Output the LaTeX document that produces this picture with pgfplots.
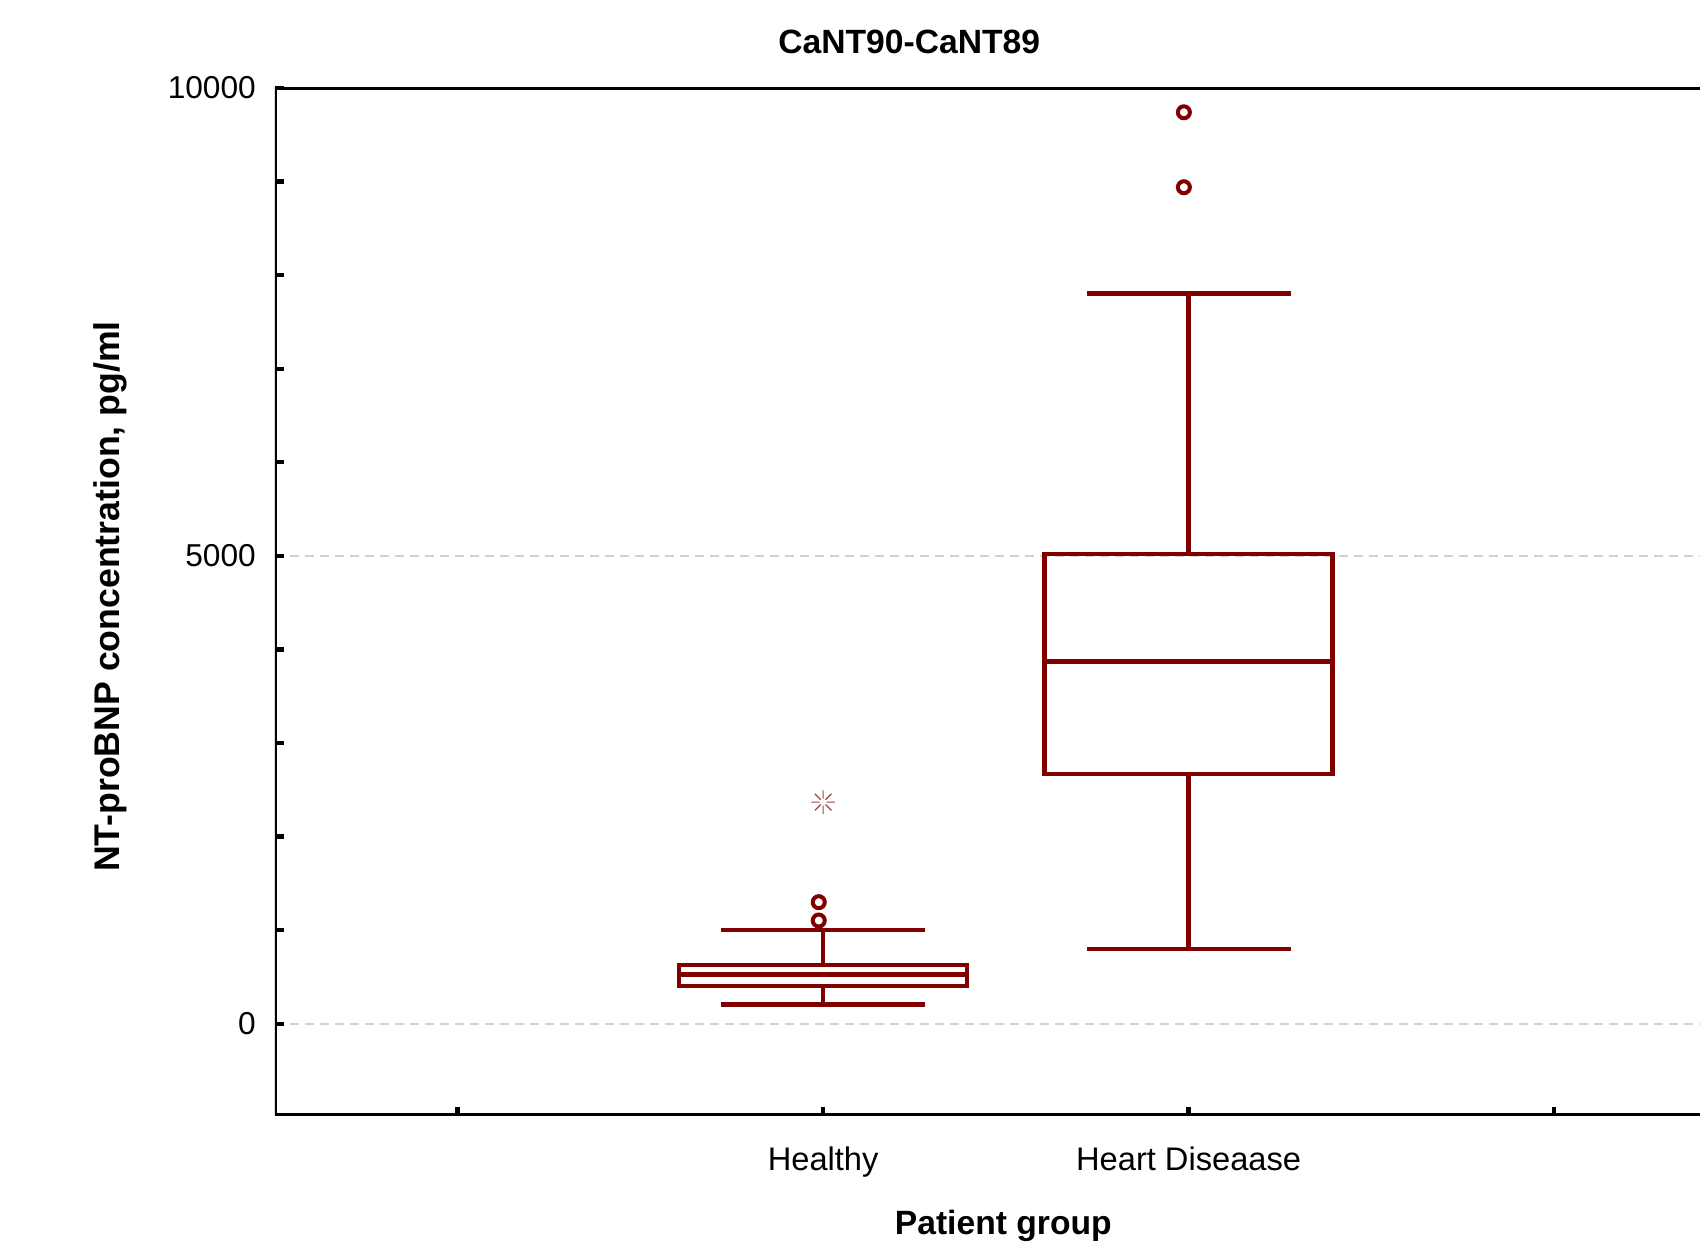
\documentclass[border=0pt]{standalone}
\usepackage{fontspec}
\setmainfont{Liberation Sans}
\usepackage{pgfplots}
\pgfplotsset{compat=1.18}
\definecolor{maroon}{RGB}{128,0,0}
\pgfdeclareplotmark{burst}{%
  \pgfpathmoveto{\pgfqpoint{0.3\pgfplotmarksize}{0pt}}\pgfpathlineto{\pgfqpoint{\pgfplotmarksize}{0pt}}%
  \pgfpathmoveto{\pgfqpoint{-0.3\pgfplotmarksize}{0pt}}\pgfpathlineto{\pgfqpoint{-\pgfplotmarksize}{0pt}}%
  \pgfpathmoveto{\pgfqpoint{0pt}{0.3\pgfplotmarksize}}\pgfpathlineto{\pgfqpoint{0pt}{\pgfplotmarksize}}%
  \pgfpathmoveto{\pgfqpoint{0pt}{-0.3\pgfplotmarksize}}\pgfpathlineto{\pgfqpoint{0pt}{-\pgfplotmarksize}}%
  \pgfpathmoveto{\pgfqpoint{0.21\pgfplotmarksize}{0.21\pgfplotmarksize}}\pgfpathlineto{\pgfqpoint{0.707\pgfplotmarksize}{0.707\pgfplotmarksize}}%
  \pgfpathmoveto{\pgfqpoint{-0.21\pgfplotmarksize}{0.21\pgfplotmarksize}}\pgfpathlineto{\pgfqpoint{-0.707\pgfplotmarksize}{0.707\pgfplotmarksize}}%
  \pgfpathmoveto{\pgfqpoint{0.21\pgfplotmarksize}{-0.21\pgfplotmarksize}}\pgfpathlineto{\pgfqpoint{0.707\pgfplotmarksize}{-0.707\pgfplotmarksize}}%
  \pgfpathmoveto{\pgfqpoint{-0.21\pgfplotmarksize}{-0.21\pgfplotmarksize}}\pgfpathlineto{\pgfqpoint{-0.707\pgfplotmarksize}{-0.707\pgfplotmarksize}}%
  \pgfusepathqstroke}
\begin{document}
\begin{tikzpicture}
\begin{axis}[
  scale only axis,
  width=427.8pt, height=308.4pt,
  xmin=-0.5, xmax=3.4, ymin=-980, ymax=10000,
  axis lines=left,
  axis line style={draw=none},
  tick align=inside,
  scaled y ticks=false,
  xtick={0,1,2,3},
  xticklabels={,Healthy,Heart Diseaase,},
  ytick={0,5000,10000},
  yticklabels={0,5000,10000},
  minor ytick={1000,2000,3000,4000,6000,7000,8000,9000},
  major tick length=2.7pt, minor tick length=2.7pt,
  tick style={black, line width=1.3pt},
  ymajorgrids,
  major grid style={gray!35, line width=0.4pt, dash pattern=on 2.7pt off 1.8pt},
  xticklabel style={anchor=base, yshift=-16.4pt, font=\fontsize{9.8}{11}\selectfont},
  yticklabel style={anchor=east, xshift=-2.2pt, font=\fontsize{9.5}{11}\selectfont},
  every axis title shift=0pt,
  title={CaNT90-CaNT89},
  title style={at={(rel axis cs:0.445,1.0337)}, anchor=base, font=\bfseries\fontsize{10.1}{12}\selectfont},
  xlabel={Patient group},
  xlabel style={at={(rel axis cs:0.511,-0.1158)}, anchor=base, inner sep=0pt, font=\bfseries\fontsize{10.1}{12}\selectfont},
  ylabel={NT-proBNP concentration, pg/ml},
  ylabel style={at={(rel axis cs:-0.1087,0.505)}, anchor=base, inner sep=0pt, font=\bfseries\fontsize{10.7}{12}\selectfont},
  every axis plot/.append style={line width=1.4pt, line join=miter},
]
% Healthy: box Q1=406, median=527, Q3=630, whiskers 206 / 1004
\addplot[maroon, mark=none] coordinates {(1,406) (1.394,406) (1.394,630) (0.606,630) (0.606,406) (1,406)};
\addplot[maroon, mark=none] coordinates {(0.606,527) (1.394,527)};
\addplot[maroon, mark=none] coordinates {(1,630) (1,1004)};
\addplot[maroon, mark=none] coordinates {(0.721,1004) (1.279,1004)};
\addplot[maroon, mark=none] coordinates {(1,406) (1,206)};
\addplot[maroon, mark=none] coordinates {(0.721,206) (1.279,206)};
% Heart Disease: box Q1=2668, median=3875, Q3=5021, whiskers 798 / 7802
\addplot[maroon, mark=none] coordinates {(2,2668) (2.394,2668) (2.394,5021) (1.606,5021) (1.606,2668) (2,2668)};
\addplot[maroon, mark=none] coordinates {(1.606,3875) (2.394,3875)};
\addplot[maroon, mark=none] coordinates {(2,5021) (2,7802)};
\addplot[maroon, mark=none] coordinates {(1.721,7802) (2.279,7802)};
\addplot[maroon, mark=none] coordinates {(2,2668) (2,798)};
\addplot[maroon, mark=none] coordinates {(1.721,798) (2.279,798)};
% outliers
\addplot[only marks, mark=o, mark size=1.8pt, maroon, mark options={line width=1.2pt}] coordinates {(0.988,1300) (0.988,1104) (1.987,9740) (1.987,8939)};
% extreme
\addplot[only marks, mark=burst, mark size=3.5pt, maroon!75, mark options={line width=0.35pt}] coordinates {(1.0,2369)};
\draw[black, line width=1.5pt, line join=miter] (rel axis cs:1,0) -- (rel axis cs:0,0) -- (rel axis cs:0,1) -- (rel axis cs:1,1);
\coordinate (bl) at (rel axis cs:0,0);
\coordinate (tl) at (rel axis cs:0,1);
\end{axis}
\path (bl) ++(-82.5pt,-39pt);
\path (tl) ++(0,26.4pt);
\end{tikzpicture}
\end{document}
